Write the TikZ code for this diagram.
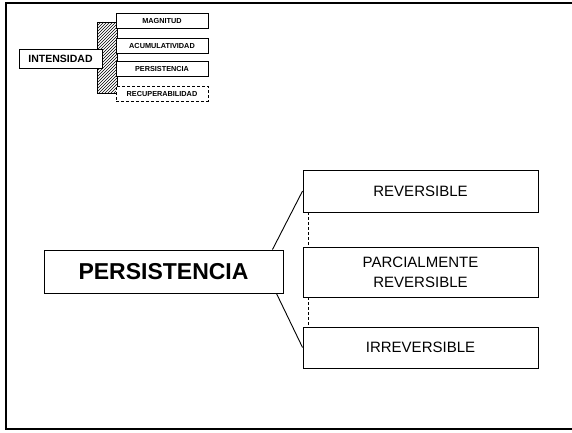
\documentclass[tikz,border=0pt]{standalone}
\usepackage{fontspec}
\setmainfont{Liberation Sans}
\usetikzlibrary{patterns}

\begin{document}
\begin{tikzpicture}[x=1pt,y=-1pt,line width=0.9pt,
  smallbox/.style={draw,fill=white,minimum width=92pt,minimum height=15pt,inner sep=0pt,font=\fontsize{7.3}{8}\selectfont\bfseries},
  bigbox/.style={draw,fill=white,minimum width=235pt,inner sep=0pt,align=center,font=\fontsize{15}{20}\selectfont}]
\useasboundingbox (0,0) rectangle (572,432);
\draw[line width=1.6pt] (572,3) -- (6,3) -- (6,429) -- (572,429);
% upper left group
\draw[line width=0.8pt,pattern=north east lines] (97,22) rectangle (117,93);
\node[draw,fill=white,minimum width=83pt,minimum height=19pt,inner sep=0pt,font=\fontsize{10.5}{12}\selectfont\bfseries] (intens) at (60.5,58.5) {INTENSIDAD};
\node[smallbox] (magn) at (162,20.5) {MAGNITUD};
\node[smallbox] (acum) at (162,45.5) {ACUMULATIVIDAD};
\node[smallbox] (pers1) at (162,69) {PERSISTENCIA};
\node[smallbox,densely dashed] (recup) at (162,93.5) {RECUPERABILIDAD};
% lower group
\node[draw,minimum width=239pt,minimum height=43pt,inner sep=0pt,font=\fontsize{23}{26}\selectfont\bfseries] (pers) at (163.5,271.5) {PERSISTENCIA};
\node[bigbox,minimum height=42pt] (rev) at (420.5,191) {REVERSIBLE};
\node[bigbox,minimum height=50pt] (parc) at (420.5,272) {PARCIALMENTE\\REVERSIBLE};
\node[bigbox,minimum height=41pt] (irr) at (420.5,347.5) {IRREVERSIBLE};
\draw ([xshift=-11pt]pers.north east) -- (rev.west);
\draw ([xshift=-7pt]pers.south east) -- (irr.west);
\draw[densely dashed] ([xshift=6pt]rev.south west) -- ([xshift=6pt]parc.north west);
\draw[densely dashed] ([xshift=6pt]parc.south west) -- ([xshift=6pt]irr.north west);
\end{tikzpicture}
\end{document}
